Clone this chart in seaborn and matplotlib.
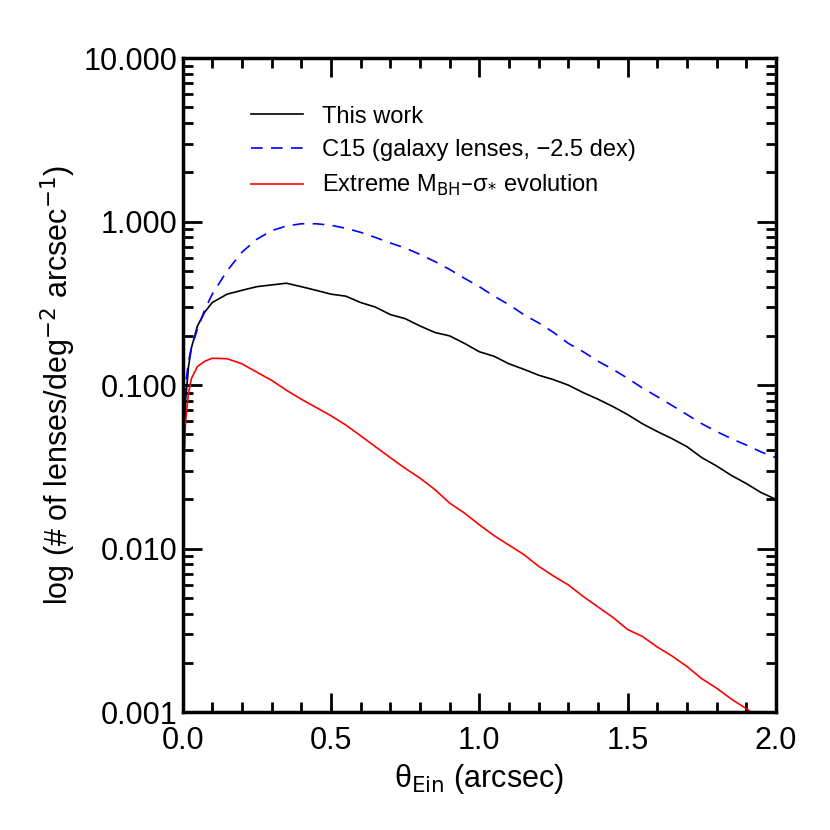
import matplotlib
matplotlib.use("Agg")
import matplotlib.pyplot as plt
import seaborn as sns
import pandas as pd
from matplotlib.ticker import FixedLocator, MultipleLocator, NullFormatter

theta = [0.0, 0.01, 0.02, 0.03, 0.05, 0.075, 0.1, 0.15, 0.2, 0.25, 0.3, 0.35, 0.4, 0.45, 0.5, 0.55, 0.6, 0.65,
         0.7, 0.75, 0.8, 0.85, 0.9, 0.95, 1.0, 1.05, 1.1, 1.15, 1.2, 1.25, 1.3, 1.35, 1.4, 1.45,
         1.5, 1.55, 1.6, 1.65, 1.7, 1.75, 1.8, 1.85, 1.9, 1.95, 2.0]
this_work = [0.02, 0.08, 0.13, 0.17, 0.23, 0.28, 0.32, 0.36, 0.38, 0.40, 0.41, 0.42, 0.40, 0.38, 0.36, 0.35, 0.32, 0.30,
             0.27, 0.255, 0.23, 0.21, 0.20, 0.18, 0.16, 0.15, 0.135, 0.125, 0.115, 0.108, 0.10, 0.09, 0.082, 0.074,
             0.066, 0.058, 0.052, 0.047, 0.042, 0.036, 0.032, 0.028, 0.025, 0.022, 0.020]
c15 = [0.02, 0.10, 0.14, 0.17, 0.22, 0.29, 0.36, 0.50, 0.65, 0.78, 0.88, 0.94, 0.97, 0.97, 0.95, 0.91, 0.86, 0.80,
       0.74, 0.69, 0.63, 0.57, 0.51, 0.45, 0.40, 0.35, 0.31, 0.27, 0.24, 0.21, 0.18, 0.16, 0.14, 0.125,
       0.11, 0.096, 0.085, 0.075, 0.066, 0.058, 0.052, 0.047, 0.043, 0.039, 0.036]
extreme = [0.02, 0.06, 0.09, 0.11, 0.13, 0.14, 0.146, 0.145, 0.135, 0.12, 0.107, 0.093, 0.082, 0.073, 0.065, 0.057, 0.049, 0.042,
           0.036, 0.031, 0.027, 0.023, 0.019, 0.0165, 0.014, 0.012, 0.0105, 0.0092, 0.0078, 0.0068, 0.006, 0.0051, 0.0044, 0.0038,
           0.0032, 0.0029, 0.0025, 0.0022, 0.0019, 0.0016, 0.0014, 0.0012, 0.00105, 0.0009, 0.0008]
x_ticks = [0.0, 0.5, 1.0, 1.5, 2.0]
x_tick_labels = ["0.0", "0.5", "1.0", "1.5", "2.0"]
y_ticks = [0.001, 0.01, 0.1, 1, 10]
y_tick_labels = ["0.001", "0.010", "0.100", "1.000", "10.000"]

plt.rcParams["font.family"] = "Liberation Sans"
df = pd.DataFrame({"theta": theta * 3,
                   "val": this_work + c15 + extreme,
                   "series": ["This work"] * len(theta) + ["C15 (galaxy lenses, \u22122.5 dex)"] * len(theta)
                   + ["Extreme M$_{\\rm BH}$\u2013\u03c3$_{*}$ evolution"] * len(theta)})

fig = plt.figure(figsize=(8.3, 8.3), dpi=100)
ax = fig.add_axes([0.22, 0.142, 0.715, 0.788])
names = df["series"].unique()
sns.lineplot(data=df, x="theta", y="val", hue="series", style="series",
             palette=dict(zip(names, ["black", "blue", "red"])),
             dashes=dict(zip(names, ["", (7, 5), ""])), lw=1.2, ax=ax)
ax.set_yscale("log")
ax.set_xlim(0, 2.0)
ax.set_ylim(0.001, 10)
ax.xaxis.set_major_locator(FixedLocator(x_ticks))
ax.set_xticklabels(x_tick_labels)
ax.xaxis.set_minor_locator(MultipleLocator(0.1))
ax.yaxis.set_major_locator(FixedLocator(y_ticks))
ax.set_yticklabels(y_tick_labels)
ax.yaxis.set_minor_formatter(NullFormatter())
ax.tick_params(which="both", direction="in", top=True, right=True, width=2, labelsize=22)
ax.tick_params(which="major", length=14)
ax.tick_params(which="minor", length=7)
ax.tick_params(axis="x", pad=10)
for s in ax.spines.values():
    s.set_linewidth(2.5)
ax.set_xlabel("\u03b8$_{\\rm Ein}$ (arcsec)", fontsize=22)
ax.set_ylabel("log (# of lenses/deg$^{-2}$ arcsec$^{-1}$)", fontsize=22)
ax.legend(loc="upper left", bbox_to_anchor=(0.08, 0.96), frameon=False, fontsize=17, handlelength=2.2)
fig.savefig("out.png", dpi=100)
